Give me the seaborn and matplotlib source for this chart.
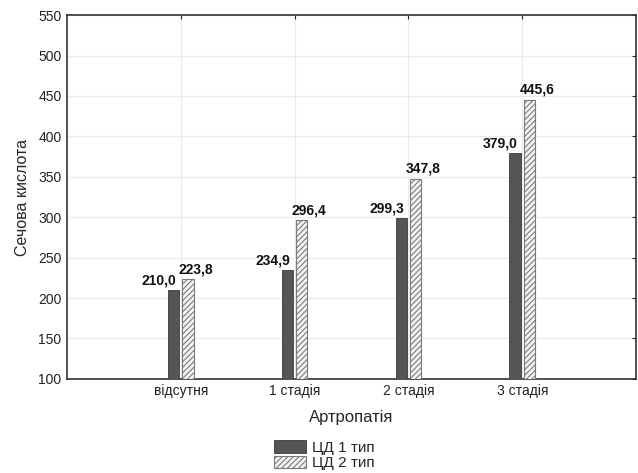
import matplotlib
matplotlib.use("Agg")
import matplotlib.pyplot as plt
import seaborn as sns
import pandas as pd
from matplotlib.patches import Patch

categories = ["відсутня", "1 стадія", "2 стадія", "3 стадія"]
series_names = ["ЦД 1 тип", "ЦД 2 тип"]
type1_values = [210.0, 234.9, 299.3, 379.0]
type2_values = [223.8, 296.4, 347.8, 445.6]
y_ticks = [100, 150, 200, 250, 300, 350, 400, 450, 500, 550]

df = pd.DataFrame({
    "cat": categories * 2,
    "series": [series_names[0]] * 4 + [series_names[1]] * 4,
    "value": type1_values + type2_values,
})

sns.set_style("white")
plt.rcParams["font.family"] = ["Liberation Sans", "DejaVu Sans"]
plt.rcParams["hatch.color"] = "#8a8a8a"
plt.rcParams["hatch.linewidth"] = 0.8

fig = plt.figure(figsize=(6.38, 4.73), dpi=100)
ax = fig.add_axes([0.105, 0.199, 0.892, 0.769])

dark = "#555555"
light = "#f4f4f4"
sns.barplot(data=df, x="cat", y="value", hue="series", order=categories,
            hue_order=series_names, palette=[dark, light], width=0.25, gap=0.2,
            ax=ax, legend=False, saturation=1, zorder=3)

for i, cont in enumerate(ax.containers):
    vals = type1_values if i == 0 else type2_values
    for patch, v in zip(cont.patches, vals):
        if i == 0:
            patch.set_edgecolor("#3a3a3a")
            patch.set_linewidth(0.6)
            x = patch.get_x() + patch.get_width()
            ax.annotate(f"{v:.1f}".replace(".", ","), (x, v), xytext=(-2, 2),
                        textcoords="offset points", ha="right", va="bottom",
                        fontsize=10, fontweight="bold", color="#111111")
        else:
            patch.set_hatch("//////")
            patch.set_edgecolor("#7a7a7a")
            patch.set_linewidth(0.8)
            x = patch.get_x()
            ax.annotate(f"{v:.1f}".replace(".", ","), (x, v), xytext=(-3, 2),
                        textcoords="offset points", ha="left", va="bottom",
                        fontsize=10, fontweight="bold", color="#111111")

ax.set_xlim(-1, 4)
ax.set_ylim(100, 550)
ax.set_yticks(y_ticks)
ax.set_yticklabels([str(t) for t in y_ticks], fontsize=10)
ax.set_xticks(range(len(categories)))
ax.set_xticklabels(categories, fontsize=10)
ax.grid(True, color="#ebebeb", linewidth=0.8, zorder=0)
ax.set_axisbelow(True)
ax.tick_params(direction="in", length=3, width=0.8, top=True, right=True,
               colors="#222222", pad=4)
for s in ax.spines.values():
    s.set_visible(True)
    s.set_color("#333333")
    s.set_linewidth(1.2)

ax.set_xlabel("Артропатія", fontsize=12, labelpad=8)
ax.set_ylabel("Сечова кислота", fontsize=11.5, labelpad=6)

handles = [Patch(facecolor=dark, edgecolor="#3a3a3a", linewidth=0.6),
           Patch(facecolor=light, edgecolor="#7a7a7a", hatch="//////", linewidth=0.8)]
fig.legend(handles, series_names, loc="upper left",
           bbox_to_anchor=(266 / 638, 1 - 432 / 473), frameon=False,
           fontsize=11, handlelength=2.1, handleheight=0.85, labelspacing=0.05,
           handletextpad=0.35, borderpad=0.05)

fig.savefig("out.png", dpi=100)
